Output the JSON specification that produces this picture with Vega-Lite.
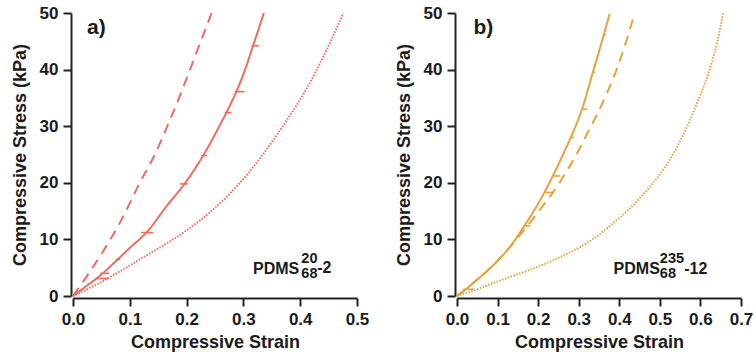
{
  "$schema": "https://vega.github.io/schema/vega-lite/v6.json",
  "padding": {"left": 11, "top": 4, "right": 2, "bottom": 3},
  "spacing": 26,
  "config": {
    "view": {"stroke": null},
    "font": "Liberation Sans",
    "axis": {
      "grid": false,
      "domainColor": "#222",
      "domainWidth": 2,
      "tickColor": "#222",
      "tickWidth": 2,
      "tickSize": 8,
      "offset": 2,
      "labelFont": "Liberation Sans",
      "labelFontSize": 17,
      "labelFontWeight": "bold",
      "labelColor": "#1a1a1a",
      "labelPadding": 5,
      "labelFlush": false,
      "titleFont": "Liberation Sans",
      "titleFontSize": 18,
      "titleFontWeight": "bold",
      "titleColor": "#1a1a1a"
    },
    "axisX": {"titlePadding": 6},
    "axisY": {"titlePadding": 10, "labelPadding": 5}
  },
  "hconcat": [
    {
      "width": 284,
      "height": 283,
      "layer": [
        {
          "data": {"values": [
            {"series": "dashed", "strain": 0, "stress": 0},
            {"series": "dashed", "strain": 0.025, "stress": 3.6},
            {"series": "dashed", "strain": 0.05, "stress": 7.4},
            {"series": "dashed", "strain": 0.086, "stress": 13.6},
            {"series": "dashed", "strain": 0.115, "stress": 19.5},
            {"series": "dashed", "strain": 0.147, "stress": 25.6},
            {"series": "dashed", "strain": 0.166, "stress": 30},
            {"series": "dashed", "strain": 0.188, "stress": 35.3},
            {"series": "dashed", "strain": 0.206, "stress": 40},
            {"series": "dashed", "strain": 0.225, "stress": 45},
            {"series": "dashed", "strain": 0.244, "stress": 50},
            {"series": "solid", "strain": 0, "stress": 0},
            {"series": "solid", "strain": 0.02, "stress": 1.5},
            {"series": "solid", "strain": 0.0475, "stress": 3.6},
            {"series": "solid", "strain": 0.075, "stress": 6.1},
            {"series": "solid", "strain": 0.1, "stress": 8.5},
            {"series": "solid", "strain": 0.13, "stress": 11.3},
            {"series": "solid", "strain": 0.165, "stress": 15.9},
            {"series": "solid", "strain": 0.197, "stress": 19.9},
            {"series": "solid", "strain": 0.232, "stress": 25.3},
            {"series": "solid", "strain": 0.255, "stress": 29.5},
            {"series": "solid", "strain": 0.27, "stress": 32.4},
            {"series": "solid", "strain": 0.288, "stress": 36.2},
            {"series": "solid", "strain": 0.303, "stress": 40},
            {"series": "solid", "strain": 0.317, "stress": 44.2},
            {"series": "solid", "strain": 0.336, "stress": 50},
            {"series": "dotted", "strain": 0, "stress": 0},
            {"series": "dotted", "strain": 0.025, "stress": 1.2},
            {"series": "dotted", "strain": 0.053, "stress": 2.65},
            {"series": "dotted", "strain": 0.085, "stress": 4.5},
            {"series": "dotted", "strain": 0.118, "stress": 6.5},
            {"series": "dotted", "strain": 0.16, "stress": 9.0},
            {"series": "dotted", "strain": 0.2, "stress": 11.6},
            {"series": "dotted", "strain": 0.247, "stress": 15.3},
            {"series": "dotted", "strain": 0.294, "stress": 20.0},
            {"series": "dotted", "strain": 0.335, "stress": 25.1},
            {"series": "dotted", "strain": 0.376, "stress": 31.0},
            {"series": "dotted", "strain": 0.411, "stress": 36.6},
            {"series": "dotted", "strain": 0.447, "stress": 43.6},
            {"series": "dotted", "strain": 0.476, "stress": 50}
          ]},
          "mark": {"type": "line", "color": "#F26B5E", "strokeWidth": 2, "interpolate": "monotone"},
          "encoding": {
            "x": {"field": "strain", "type": "quantitative", "scale": {"domain": [0, 0.5], "nice": false}, "axis": {"title": "Compressive Strain", "values": [0, 0.1, 0.2, 0.3, 0.4, 0.5], "format": ".1f"}},
            "y": {"field": "stress", "type": "quantitative", "scale": {"domain": [0, 50], "nice": false}, "axis": {"title": "Compressive Stress (kPa)", "values": [0, 10, 20, 30, 40, 50], "format": "d"}},
            "strokeDash": {"field": "series", "type": "nominal", "scale": {"domain": ["dashed", "solid", "dotted"], "range": [[10, 7], [1, 0], [1.5, 1.5]]}, "legend": null}
          }
        },
        {
          "data": {"values": [
            {"lo": 0.04, "hi": 0.062, "stress": 3.1},
            {"lo": 0.048, "hi": 0.064, "stress": 4.0},
            {"lo": 0.076, "hi": 0.083, "stress": 6.5},
            {"lo": 0.12, "hi": 0.141, "stress": 11.2},
            {"lo": 0.188, "hi": 0.202, "stress": 19.8},
            {"lo": 0.226, "hi": 0.236, "stress": 24.8},
            {"lo": 0.267, "hi": 0.279, "stress": 32.4},
            {"lo": 0.285, "hi": 0.302, "stress": 36.1},
            {"lo": 0.314, "hi": 0.327, "stress": 44.2}
          ]},
          "mark": {"type": "rule", "color": "#F26B5E", "strokeWidth": 1.6},
          "encoding": {
            "x": {"field": "lo", "type": "quantitative"},
            "x2": {"field": "hi"},
            "y": {"field": "stress", "type": "quantitative"}
          }
        },
        {
          "data": {"values": [{"strain": 0.0246, "stress": 47.3, "label": "a)"}]},
          "mark": {"type": "text", "align": "left", "baseline": "middle", "fontSize": 21, "fontWeight": "bold", "color": "#1a1a1a"},
          "encoding": {
            "x": {"field": "strain", "type": "quantitative"},
            "y": {"field": "stress", "type": "quantitative"},
            "text": {"field": "label"}
          }
        },
        {
          "data": {"values": [
            {"strain": 0.317, "stress": 4.77, "label": "PDMS"},
            {"strain": 0.43, "stress": 5.0, "label": "-2"}
          ]},
          "mark": {"type": "text", "align": "left", "baseline": "middle", "fontSize": 16, "fontWeight": "bold", "color": "#1a1a1a"},
          "encoding": {
            "x": {"field": "strain", "type": "quantitative"},
            "y": {"field": "stress", "type": "quantitative"},
            "text": {"field": "label"}
          }
        },
        {
          "data": {"values": [
            {"strain": 0.402, "stress": 6.6, "label": "20"},
            {"strain": 0.402, "stress": 3.9, "label": "68"}
          ]},
          "mark": {"type": "text", "align": "left", "baseline": "middle", "fontSize": 14.5, "fontWeight": "bold", "color": "#1a1a1a"},
          "encoding": {
            "x": {"field": "strain", "type": "quantitative"},
            "y": {"field": "stress", "type": "quantitative"},
            "text": {"field": "label"}
          }
        }
      ]
    },
    {
      "width": 284,
      "height": 283,
      "layer": [
        {
          "data": {"values": [
            {"series": "dashed", "strain": 0, "stress": 0},
            {"series": "dashed", "strain": 0.04, "stress": 2.3},
            {"series": "dashed", "strain": 0.08, "stress": 4.8},
            {"series": "dashed", "strain": 0.12, "stress": 7.8},
            {"series": "dashed", "strain": 0.16, "stress": 11.2},
            {"series": "dashed", "strain": 0.19, "stress": 13.9},
            {"series": "dashed", "strain": 0.22, "stress": 16.7},
            {"series": "dashed", "strain": 0.251, "stress": 19.8},
            {"series": "dashed", "strain": 0.275, "stress": 22.6},
            {"series": "dashed", "strain": 0.298, "stress": 25.5},
            {"series": "dashed", "strain": 0.321, "stress": 28.7},
            {"series": "dashed", "strain": 0.358, "stress": 34.0},
            {"series": "dashed", "strain": 0.395, "stress": 40.3},
            {"series": "dashed", "strain": 0.415, "stress": 44.5},
            {"series": "dashed", "strain": 0.436, "stress": 49.5},
            {"series": "solid", "strain": 0, "stress": 0},
            {"series": "solid", "strain": 0.02, "stress": 1.1},
            {"series": "solid", "strain": 0.041, "stress": 2.35},
            {"series": "solid", "strain": 0.075, "stress": 4.5},
            {"series": "solid", "strain": 0.1, "stress": 6.2},
            {"series": "solid", "strain": 0.124, "stress": 8.1},
            {"series": "solid", "strain": 0.169, "stress": 12.7},
            {"series": "solid", "strain": 0.214, "stress": 18.1},
            {"series": "solid", "strain": 0.239, "stress": 21.6},
            {"series": "solid", "strain": 0.26, "stress": 24.8},
            {"series": "solid", "strain": 0.284, "stress": 28.6},
            {"series": "solid", "strain": 0.309, "stress": 33.2},
            {"series": "solid", "strain": 0.334, "stress": 39.3},
            {"series": "solid", "strain": 0.362, "stress": 46.2},
            {"series": "solid", "strain": 0.376, "stress": 49.8},
            {"series": "dotted", "strain": 0, "stress": 0},
            {"series": "dotted", "strain": 0.05, "stress": 1.18},
            {"series": "dotted", "strain": 0.09, "stress": 2.3},
            {"series": "dotted", "strain": 0.132, "stress": 3.4},
            {"series": "dotted", "strain": 0.175, "stress": 4.5},
            {"series": "dotted", "strain": 0.214, "stress": 5.6},
            {"series": "dotted", "strain": 0.255, "stress": 6.9},
            {"series": "dotted", "strain": 0.297, "stress": 8.4},
            {"series": "dotted", "strain": 0.34, "stress": 10.3},
            {"series": "dotted", "strain": 0.379, "stress": 12.5},
            {"series": "dotted", "strain": 0.428, "stress": 15.6},
            {"series": "dotted", "strain": 0.462, "stress": 18.2},
            {"series": "dotted", "strain": 0.5, "stress": 21.5},
            {"series": "dotted", "strain": 0.532, "stress": 25.0},
            {"series": "dotted", "strain": 0.561, "stress": 29.0},
            {"series": "dotted", "strain": 0.589, "stress": 33.6},
            {"series": "dotted", "strain": 0.61, "stress": 37.4},
            {"series": "dotted", "strain": 0.626, "stress": 40.8},
            {"series": "dotted", "strain": 0.642, "stress": 45},
            {"series": "dotted", "strain": 0.656, "stress": 50}
          ]},
          "mark": {"type": "line", "color": "#E9A13A", "strokeWidth": 2, "interpolate": "monotone"},
          "encoding": {
            "x": {"field": "strain", "type": "quantitative", "scale": {"domain": [0, 0.7], "nice": false}, "axis": {"title": "Compressive Strain", "values": [0, 0.1, 0.2, 0.3, 0.4, 0.5, 0.6, 0.7], "format": ".1f"}},
            "y": {"field": "stress", "type": "quantitative", "scale": {"domain": [0, 50], "nice": false}, "axis": {"title": "Compressive Stress (kPa)", "values": [0, 10, 20, 30, 40, 50], "format": "d"}},
            "strokeDash": {"field": "series", "type": "nominal", "scale": {"domain": ["dashed", "solid", "dotted"], "range": [[10, 7], [1, 0], [1.5, 1.5]]}, "legend": null}
          }
        },
        {
          "data": {"values": [
            {"lo": 0.016, "hi": 0.041, "stress": 1.2},
            {"lo": 0.165, "hi": 0.181, "stress": 12.4},
            {"lo": 0.218, "hi": 0.239, "stress": 18.3},
            {"lo": 0.239, "hi": 0.255, "stress": 21.2},
            {"lo": 0.28, "hi": 0.288, "stress": 28.0},
            {"lo": 0.309, "hi": 0.321, "stress": 33.0},
            {"lo": 0.334, "hi": 0.34, "stress": 39.5},
            {"lo": 0.362, "hi": 0.367, "stress": 46.2}
          ]},
          "mark": {"type": "rule", "color": "#E9A13A", "strokeWidth": 1.6},
          "encoding": {
            "x": {"field": "lo", "type": "quantitative"},
            "x2": {"field": "hi"},
            "y": {"field": "stress", "type": "quantitative"}
          }
        },
        {
          "data": {"values": [{"strain": 0.0405, "stress": 47.3, "label": "b)"}]},
          "mark": {"type": "text", "align": "left", "baseline": "middle", "fontSize": 21, "fontWeight": "bold", "color": "#1a1a1a"},
          "encoding": {
            "x": {"field": "strain", "type": "quantitative"},
            "y": {"field": "stress", "type": "quantitative"},
            "text": {"field": "label"}
          }
        },
        {
          "data": {"values": [
            {"strain": 0.386, "stress": 4.7, "label": "PDMS"},
            {"strain": 0.56, "stress": 4.7, "label": "-12"}
          ]},
          "mark": {"type": "text", "align": "left", "baseline": "middle", "fontSize": 16, "fontWeight": "bold", "color": "#1a1a1a"},
          "encoding": {
            "x": {"field": "strain", "type": "quantitative"},
            "y": {"field": "stress", "type": "quantitative"},
            "text": {"field": "label"}
          }
        },
        {
          "data": {"values": [
            {"strain": 0.5, "stress": 6.6, "label": "235"},
            {"strain": 0.5, "stress": 3.9, "label": "68"}
          ]},
          "mark": {"type": "text", "align": "left", "baseline": "middle", "fontSize": 14.5, "fontWeight": "bold", "color": "#1a1a1a"},
          "encoding": {
            "x": {"field": "strain", "type": "quantitative"},
            "y": {"field": "stress", "type": "quantitative"},
            "text": {"field": "label"}
          }
        }
      ]
    }
  ]
}
